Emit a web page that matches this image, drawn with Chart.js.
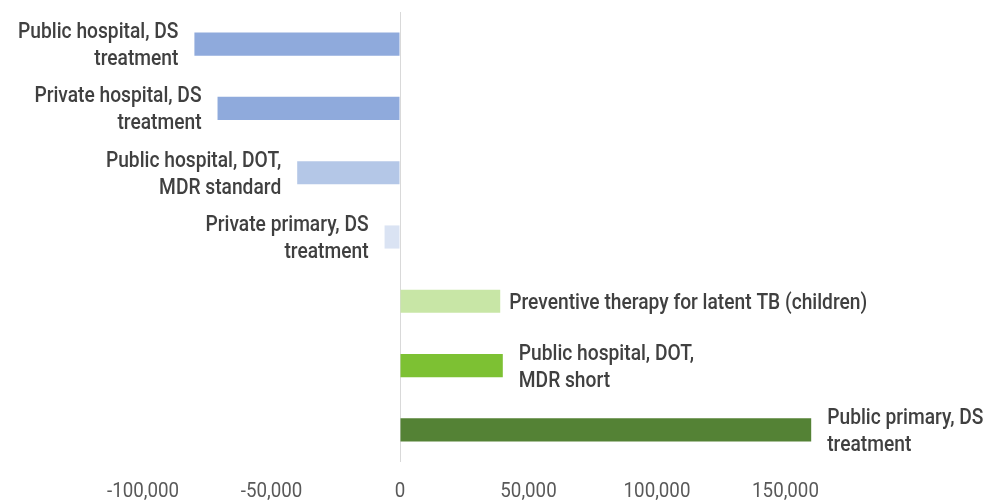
<!DOCTYPE html>
<html>
<head>
<meta charset="utf-8">
<script src="https://cdn.jsdelivr.net/npm/chart.js@4"></script>
<style>
  html, body { margin: 0; padding: 0; background: #ffffff; }
  #wrap { width: 993px; height: 500px; }
</style>
</head>
<body>
<div id="wrap"><canvas id="c" width="993" height="500"></canvas></div>
<script>
const categories = [
  ["Public hospital, DS", "treatment"],
  ["Private hospital, DS", "treatment"],
  ["Public hospital, DOT,", "MDR standard"],
  ["Private primary, DS", "treatment"],
  ["Preventive therapy for latent TB (children)"],
  ["Public hospital, DOT,", "MDR short"],
  ["Public primary, DS", "treatment"]
];
const values = [-80000, -71000, -40000, -6000, 39000, 40000, 160000];
const barColors = ["#8faadc", "#8faadc", "#b4c7e7", "#dae3f3", "#c8e6a6", "#7dc133", "#548235"];
const tickValues = [-100000, -50000, 0, 50000, 100000, 150000];

const FONT = "Roboto, 'Noto Sans', sans-serif";
const LABEL_FONT = "500 22px " + FONT;
const TICK_FONT = "400 20px " + FONT;

// constant horizontal condensing factors (the reference uses a condensed face)
function condenseFactor(ctx, font, sample, targetWidth) {
  ctx.save();
  ctx.font = font;
  const w = ctx.measureText(sample).width;
  ctx.restore();
  return targetWidth / w;
}

function drawCondensed(ctx, text, x, y, align, k) {
  ctx.save();
  ctx.translate(x, y);
  ctx.scale(k, 1);
  ctx.textAlign = align;
  ctx.fillText(text, 0, 0);
  ctx.restore();
}

const textPlugin = {
  id: 'condensedText',
  afterDatasetsDraw(chart) {
    const ctx = chart.ctx;
    const meta = chart.getDatasetMeta(0);
    const kLabel = condenseFactor(ctx, LABEL_FONT, "Preventive therapy for latent TB (children)", 358);
    const kTick = condenseFactor(ctx, TICK_FONT, "-100,000", 72);
    ctx.save();
    ctx.font = LABEL_FONT;
    ctx.fillStyle = "#404040";
    ctx.textBaseline = "middle";
    const lh = 27;
    meta.data.forEach((bar, i) => {
      const lines = categories[i];
      const v = values[i];
      const gap = lines.length === 1 ? 9 : 16;
      const align = v < 0 ? "right" : "left";
      const x = v < 0 ? bar.x - gap : bar.x + gap;
      const y0 = bar.y + 2 - (lines.length - 1) * lh / 2;
      lines.forEach((ln, k) => drawCondensed(ctx, ln, x, y0 + k * lh, align, kLabel));
    });
    // x-axis tick labels, positioned by the library's x scale
    const xs = chart.scales.x;
    ctx.font = TICK_FONT;
    ctx.fillStyle = "#595959";
    ctx.textBaseline = "middle";
    tickValues.forEach(v => {
      drawCondensed(ctx, v.toLocaleString('en-US'), xs.getPixelForValue(v), chart.chartArea.bottom + 30, "center", kTick);
    });
    ctx.restore();
  }
};

new Chart(document.getElementById('c'), {
  type: 'bar',
  data: {
    labels: categories,
    datasets: [{
      data: values,
      backgroundColor: barColors,
      borderWidth: 0,
      barPercentage: 0.36,
      categoryPercentage: 1.0
    }]
  },
  options: {
    indexAxis: 'y',
    responsive: false,
    animation: false,
    devicePixelRatio: 1,
    layout: { padding: { left: 143, right: 79, top: 12, bottom: 38 } },
    plugins: { legend: { display: false }, tooltip: { enabled: false } },
    scales: {
      y: { display: false },
      x: {
        min: -100000,
        max: 200000,
        afterBuildTicks(scale) {
          scale.ticks = tickValues.map(v => ({ value: v }));
        },
        border: { display: false },
        grid: {
          drawTicks: false,
          lineWidth: 1,
          color: (c) => (c.tick && c.tick.value === 0) ? '#d9d9d9' : 'rgba(0,0,0,0)'
        },
        ticks: { display: false }
      }
    }
  },
  plugins: [textPlugin]
});
</script>
</body>
</html>
